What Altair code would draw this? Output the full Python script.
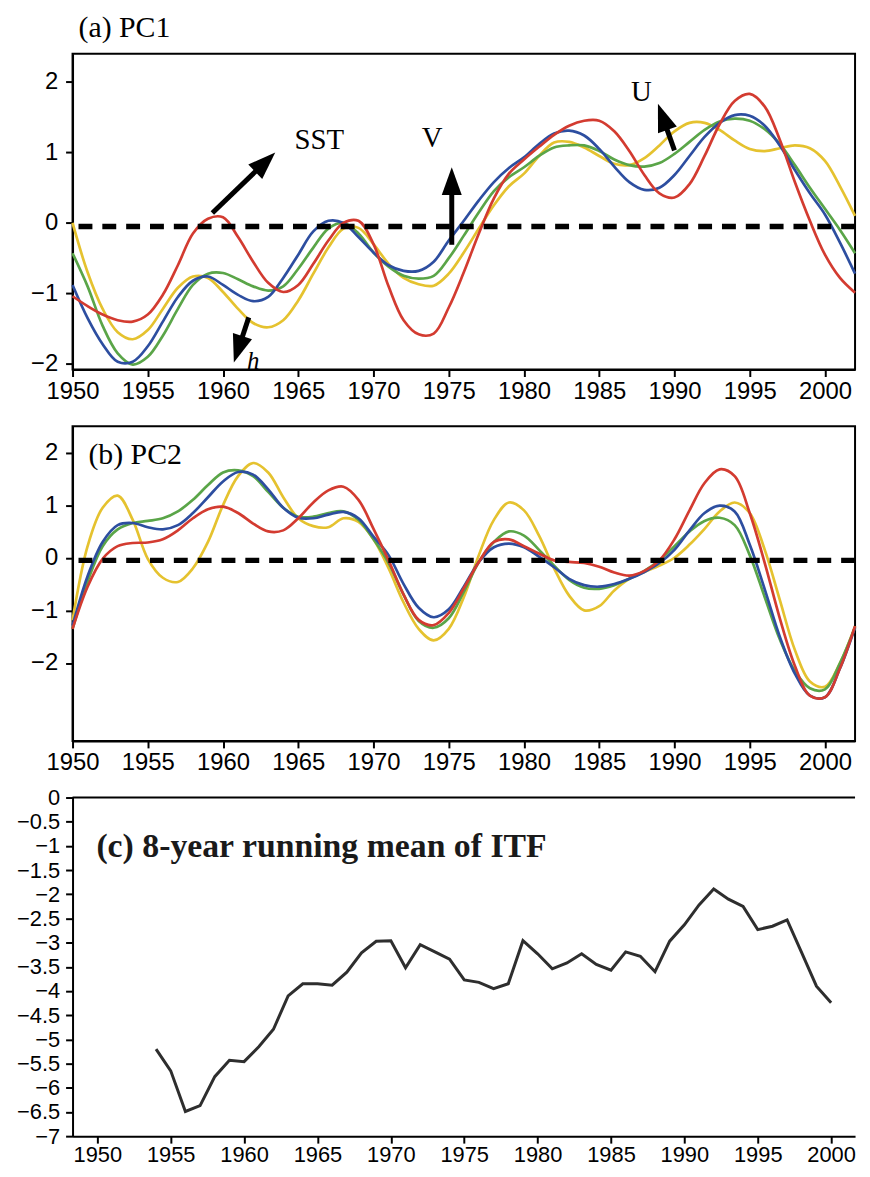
import altair as alt
import pandas as pd

# ---------------- data ----------------
years = list(range(1950, 2003))

# (a) PC1
pc1_sst = [-1.04, -1.18, -1.30, -1.38, -1.40, -1.30, -1.02, -0.60, -0.15, 0.06,
           0.08, -0.20, -0.55, -0.85, -0.98, -0.88, -0.58, -0.25, 0.00, 0.03,
           -0.30, -0.90, -1.38, -1.58, -1.57, -1.20, -0.70, -0.15, 0.35, 0.70,
           0.90, 1.08, 1.25, 1.38, 1.45, 1.45, 1.30, 1.02, 0.68, 0.42,
           0.36, 0.55, 0.95, 1.40, 1.73, 1.83, 1.65, 1.18, 0.58, 0.03,
           -0.45, -0.78, -0.99]
pc1_v = [-0.88, -1.35, -1.72, -1.97, -1.97, -1.75, -1.40, -1.05, -0.82, -0.76,
         -0.88, -1.02, -1.11, -1.05, -0.78, -0.45, -0.12, 0.03, 0.00, -0.20,
         -0.42, -0.60, -0.68, -0.68, -0.55, -0.25, 0.03, 0.32, 0.58, 0.78,
         0.93, 1.12, 1.27, 1.31, 1.24, 1.05, 0.80, 0.58, 0.47, 0.50,
         0.68, 0.95, 1.22, 1.42, 1.53, 1.52, 1.38, 1.10, 0.75, 0.42,
         0.12, -0.28, -0.72]
pc1_u = [-0.43, -0.90, -1.46, -1.85, -2.01, -1.90, -1.60, -1.22, -0.88, -0.72,
         -0.71, -0.80, -0.90, -0.96, -0.90, -0.65, -0.35, -0.08, 0.00, -0.15,
         -0.42, -0.62, -0.75, -0.79, -0.75, -0.50, -0.18, 0.15, 0.45, 0.65,
         0.79, 0.95, 1.07, 1.10, 1.10, 1.02, 0.90, 0.82, 0.80, 0.85,
         0.98, 1.15, 1.32, 1.44, 1.48, 1.45, 1.33, 1.12, 0.82, 0.50,
         0.20, -0.10, -0.43]
pc1_h = [0.00, -0.70, -1.22, -1.55, -1.65, -1.52, -1.22, -0.92, -0.76, -0.78,
         -0.98, -1.22, -1.42, -1.48, -1.38, -1.10, -0.72, -0.35, -0.08, -0.07,
         -0.30, -0.58, -0.78, -0.87, -0.89, -0.72, -0.42, -0.08, 0.25, 0.52,
         0.70, 0.95, 1.14, 1.15, 1.07, 0.95, 0.84, 0.82, 0.92, 1.10,
         1.30, 1.42, 1.42, 1.32, 1.17, 1.05, 1.02, 1.06, 1.10, 1.06,
         0.88, 0.52, 0.10]

# (b) PC2
pc2_sst = [-1.35, -0.55, -0.02, 0.22, 0.28, 0.29, 0.35, 0.52, 0.75, 0.92,
           0.97, 0.85, 0.65, 0.50, 0.52, 0.75, 1.05, 1.28, 1.35, 1.10,
           0.55, -0.05, -0.70, -1.18, -1.28, -1.05, -0.58, -0.08, 0.30, 0.35,
           0.22, 0.08, -0.05, -0.08, -0.10, -0.17, -0.28, -0.34, -0.25, -0.05,
           0.35, 0.90, 1.42, 1.68, 1.55, 0.85, -0.10, -1.15, -2.05, -2.62,
           -2.65, -2.10, -1.30]
pc2_v = [-1.29, -0.35, 0.30, 0.62, 0.66, 0.58, 0.54, 0.62, 0.85, 1.15,
         1.45, 1.63, 1.58, 1.30, 0.95, 0.76, 0.75, 0.82, 0.87, 0.75,
         0.40, 0.05, -0.50, -0.95, -1.13, -0.98, -0.55, -0.08, 0.20, 0.27,
         0.20, 0.02, -0.18, -0.40, -0.52, -0.55, -0.50, -0.40, -0.27, -0.10,
         0.15, 0.52, 0.85, 0.99, 0.88, 0.25, -0.60, -1.50, -2.20, -2.62,
         -2.65, -2.10, -1.32]
pc2_u = [-1.35, -0.45, 0.22, 0.54, 0.66, 0.70, 0.75, 0.88, 1.10, 1.38,
         1.62, 1.66, 1.55, 1.25, 0.95, 0.78, 0.78, 0.85, 0.88, 0.72,
         0.35, -0.10, -0.70, -1.20, -1.33, -1.15, -0.65, -0.08, 0.30, 0.50,
         0.42, 0.15, -0.15, -0.42, -0.57, -0.59, -0.52, -0.40, -0.25, -0.05,
         0.22, 0.50, 0.70, 0.76, 0.62, 0.05, -0.75, -1.55, -2.15, -2.48,
         -2.50, -2.00, -1.32]
pc2_h = [-1.19, 0.22, 0.95, 1.18, 0.72, -0.02, -0.38, -0.46, -0.20, 0.30,
         1.00, 1.55, 1.80, 1.62, 1.15, 0.75, 0.60, 0.58, 0.75, 0.68,
         0.35, -0.20, -0.85, -1.35, -1.57, -1.35, -0.75, 0.05, 0.72, 1.05,
         0.90, 0.42, -0.20, -0.72, -1.00, -0.92, -0.62, -0.40, -0.27, -0.15,
         0.00, 0.25, 0.55, 0.88, 1.05, 0.85, 0.15, -0.80, -1.75, -2.35,
         -2.45, -2.00, -1.30]

# (c) 8-year running mean of ITF
itf_years = list(range(1954, 2001))
itf_mean = [-5.20, -5.65, -6.49, -6.37, -5.77, -5.43, -5.46, -5.15, -4.79, -4.10,
            -3.85, -3.85, -3.88, -3.61, -3.21, -2.97, -2.96, -3.52, -3.04, -3.19,
            -3.34, -3.77, -3.82, -3.95, -3.85, -2.96, -3.23, -3.54, -3.42, -3.23,
            -3.45, -3.57, -3.19, -3.28, -3.60, -2.97, -2.63, -2.22, -1.89, -2.10,
            -2.25, -2.73, -2.66, -2.53, -3.21, -3.90, -4.24]

series_names = ["h", "U", "V", "SST"]
series_colors = ["#e5c22f", "#5aa548", "#2d4ea0", "#d33b30"]

# annotation arrows in panel (a)
arrow_names = ["SST", "V", "U", "h"]
arrow_tail_year = [1959.29, 1975.2, 1990.0, 1961.71]
arrow_tail_value = [0.14, -0.31, 1.03, -1.34]
arrow_tip_year = [1963.47, 1975.2, 1988.9, 1960.72]
arrow_tip_value = [1.00, 0.79, 1.69, -1.98]
arrow_angle = [46, 0, 340, 198]
arrow_shaft_cut = [0.16, 0.18, 0.28, 0.30]

label_text = ["SST", "V", "U"]
label_year = [1966.4, 1973.9, 1987.8]
label_value = [1.18, 1.20, 1.86]
h_label_year = [1962.0]
h_label_value = [-1.96]

zero_level = [-0.05]

# ---------------- helpers ----------------
SANS = "Liberation Sans"
SERIF = "Liberation Serif"
W = 788


def x_axis(size, pad):
    return alt.Axis(values=list(range(1950, 2001, 5)), format="d", title=None, grid=False,
                    tickSize=7, tickWidth=2, tickColor="black", domainColor="black",
                    domainWidth=2, labelFontSize=size, labelFont=SANS, labelColor="black",
                    labelPadding=pad, labelFlush=False, labelOverlap=False)


def y_axis(vals, size, pad, fmt):
    return alt.Axis(values=vals, format=fmt, title=None, grid=False,
                    tickSize=7, tickWidth=2, tickColor="black", domainColor="black",
                    domainWidth=2, labelFontSize=size, labelFont=SANS, labelColor="black",
                    labelPadding=pad, labelOverlap=False)


def pc_panel(series_values, ydomain, title_text, title_xy, annotate):
    xs = alt.Scale(domain=[1950, 2002], nice=False, zero=False)
    ys = alt.Scale(domain=ydomain, nice=False, zero=False)
    xa = x_axis(24, 3)
    ya = y_axis([-2, -1, 0, 1, 2], 24, 8, "d")

    def X(f):
        return alt.X(f, type="quantitative", scale=xs, axis=xa)

    def Y(f):
        return alt.Y(f, type="quantitative", scale=ys, axis=ya)

    layers = []
    for name, color in zip(series_names, series_colors):
        df = pd.DataFrame({"year": years, "value": series_values[name]})
        layers.append(alt.Chart(df).mark_line(color=color, strokeWidth=2.7,
                                              interpolate="catmull-rom")
                      .encode(x=X("year"), y=Y("value")))
    zdf = pd.DataFrame({"value": zero_level})
    layers.append(alt.Chart(zdf).mark_rule(color="black", strokeWidth=5.5, strokeDash=[14, 10])
                  .encode(y=Y("value")))
    if annotate:
        adf = pd.DataFrame({
            "name": arrow_names,
            "tail_year": arrow_tail_year, "tail_value": arrow_tail_value,
            "tip_year": arrow_tip_year, "tip_value": arrow_tip_value,
            "angle": arrow_angle,
        })
        adf["shaft_year"] = [t + (a - t) * c for t, a, c in zip(arrow_tip_year, arrow_tail_year, arrow_shaft_cut)]
        adf["shaft_value"] = [t + (a - t) * c for t, a, c in zip(arrow_tip_value, arrow_tail_value, arrow_shaft_cut)]
        layers.append(alt.Chart(adf).mark_rule(color="black", strokeWidth=5)
                      .encode(x=X("tail_year"), y=Y("tail_value"),
                              x2=alt.X2("shaft_year"), y2=alt.Y2("shaft_value")))
        layers.append(alt.Chart(adf).mark_point(shape="M0,0L0.72,2L-0.72,2Z", filled=True,
                                                size=784, color="black", opacity=1, strokeWidth=0)
                      .encode(x=X("tip_year"), y=Y("tip_value"),
                              angle=alt.Angle("angle:Q", scale=None)))
        ldf = pd.DataFrame({"label": label_text, "year": label_year, "value": label_value})
        layers.append(alt.Chart(ldf).mark_text(font=SERIF, fontSize=29, color="black")
                      .encode(x=X("year"), y=Y("value"), text="label:N"))
        hdf = pd.DataFrame({"label": ["h"], "year": h_label_year, "value": h_label_value})
        layers.append(alt.Chart(hdf).mark_text(font=SERIF, fontSize=25, fontStyle="italic",
                                               color="black")
                      .encode(x=X("year"), y=Y("value"), text="label:N"))
    tdf = pd.DataFrame({"t": [title_text]})
    layers.append(alt.Chart(tdf).mark_text(font=SERIF, fontSize=30, color="black",
                                           align="left", baseline="alphabetic")
                  .encode(x=alt.value(title_xy[0]), y=alt.value(title_xy[1]), text="t:N"))
    return alt.layer(*layers)


panel_a = pc_panel({"SST": pc1_sst, "V": pc1_v, "U": pc1_u, "h": pc1_h},
                   [-2.08, 2.4], "(a) PC1", (6, -17), True).properties(width=W, height=318)
panel_b = pc_panel({"SST": pc2_sst, "V": pc2_v, "U": pc2_u, "h": pc2_h},
                   [-3.48, 2.5], "(b) PC2", (16, 38), False).properties(width=W, height=317)

# panel (c)
xs_c = alt.Scale(domain=[1948.31, 2001.63], nice=False, zero=False)
ys_c = alt.Scale(domain=[-7, 0], nice=False, zero=False)
xa_c = x_axis(22, 2)
ya_c = y_axis([v / 2 for v in range(0, -15, -1)], 22, 6, ".1~f")
cdf = pd.DataFrame({"year": itf_years, "itf": itf_mean})
line_c = alt.Chart(cdf).mark_line(color="#2e2e2e", strokeWidth=3).encode(
    x=alt.X("year:Q", scale=xs_c, axis=xa_c),
    y=alt.Y("itf:Q", scale=ys_c, axis=ya_c))
top_c = alt.Chart(pd.DataFrame({"itf": [0]})).mark_rule(color="black", strokeWidth=2).encode(
    y=alt.Y("itf:Q", scale=ys_c, axis=ya_c))
title_c = alt.Chart(pd.DataFrame({"t": ["(c) 8-year running mean of ITF"]})).mark_text(
    font=SERIF, fontSize=34, fontWeight="bold", color="#1a1a1a", align="left",
    baseline="middle").encode(x=alt.value(24), y=alt.value(50), text="t:N")
panel_c = alt.layer(line_c, top_c, title_c).properties(
    width=W, height=341, view=alt.ViewBackground(stroke="transparent"))

chart = alt.vconcat(panel_a, panel_b, panel_c, spacing=57, bounds="flush").properties(
    padding={"left": 7, "top": 0, "right": 0, "bottom": 0},
    background="white",
).configure_view(stroke="black", strokeWidth=2)

chart.save("out.html", embed_options={"renderer": "svg", "actions": False})
